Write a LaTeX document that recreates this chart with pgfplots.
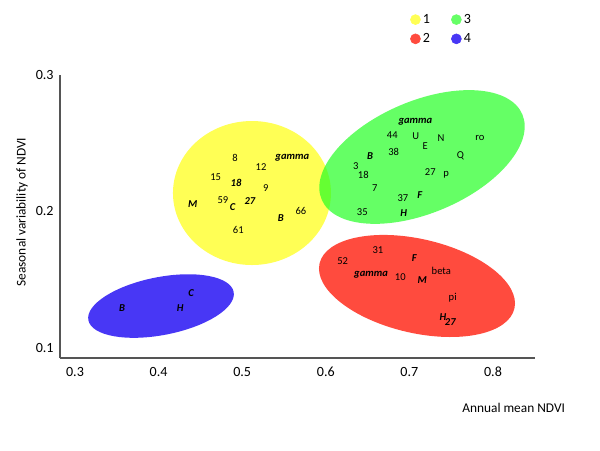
\documentclass[border=0pt]{standalone}
\usepackage{fontspec}
\setmainfont{Carlito}
\usepackage{pgfplots}
\pgfplotsset{compat=1.18}

\definecolor{cyellow}{RGB}{255,255,85}
\definecolor{cgreen}{RGB}{36,255,36}
\definecolor{cred}{RGB}{255,75,62}
\definecolor{cblue}{RGB}{72,55,245}
\definecolor{axisgray}{RGB}{85,85,85}
\newcommand\bi{\bfseries\itshape}

\begin{document}
\begin{tikzpicture}
\begin{axis}[
    x=20.9cm, y=34.125cm,
    xmin=0.282, xmax=0.85,
    ymin=0.0923, ymax=0.3,
    axis x line*=bottom,
    axis y line*=left,
    axis line style={axisgray, line width=1pt},
    xtick={0.3,0.4,0.5,0.6,0.7,0.8},
    ytick={0.1,0.2,0.3},
    major tick length=0pt,
    /pgf/number format/assume math mode=true,
    /pgf/number format/fixed,
    /pgf/number format/fixed zerofill,
    /pgf/number format/precision=1,
    tick label style={font=\fontsize{10}{12}\selectfont, black},
    xticklabel style={yshift=-3pt},
    yticklabel style={xshift=-1pt},
    xlabel={Annual mean NDVI},
    ylabel={Seasonal variability of NDVI},
    every axis x label/.style={at={(axis description cs:1.074,-0.176)}, anchor=east,
        font=\fontsize{9.5}{11}\selectfont},
    every axis y label/.style={at={(axis description cs:-0.08,0.515)}, rotate=90, anchor=center,
        font=\fontsize{9.5}{11}\selectfont},
    clip=false,
    nodes near coords,
    point meta=explicit symbolic,
    every node near coord/.append style={anchor=center, inner sep=0pt,
        font=\fontsize{7.5}{9}\selectfont, black},
    legend columns=2,
    transpose legend,
    legend style={at={(0.737,1.222)}, anchor=north west, draw=none, fill=none,
        inner sep=0pt, row sep=2.7pt, font=\fontsize{10}{12}\selectfont,
        nodes={inner sep=1.5pt},
        /tikz/every even column/.append style={column sep=0.475cm}},
    legend cell align=left,
]

% cluster outlines
\fill[cyellow] (axis cs:0.5117,0.2132) ellipse [x radius=1.975cm, y radius=1.8cm];
\fill[cgreen, opacity=0.7] (axis cs:0.7151,0.2396) ellipse [x radius=2.725cm, y radius=1.4cm, rotate=23];
\fill[cred] (axis cs:0.7091,0.1451) ellipse [x radius=2.5cm, y radius=1.175cm, rotate=-13];
\fill[cblue] (axis cs:0.4029,0.1304) ellipse [x radius=1.85cm, y radius=0.725cm, rotate=11];

\addlegendimage{cyellow, legend image code/.code={\fill (0cm,0cm) circle (0.125cm);}}
\addlegendentry{1}
\addlegendimage{cred, legend image code/.code={\fill (0cm,0cm) circle (0.125cm);}}
\addlegendentry{2}
\addlegendimage{cgreen!70!white, legend image code/.code={\fill (0cm,0cm) circle (0.125cm);}}
\addlegendentry{3}
\addlegendimage{cblue, legend image code/.code={\fill (0cm,0cm) circle (0.125cm);}}
\addlegendentry{4}

% cluster 1 (yellow)
\addplot[draw=none, mark=none, forget plot] coordinates {
    (0.4914,0.2386) [8]
    (0.5225,0.2325) [12]
    (0.5599,0.2393) [\bi gamma]
    (0.4683,0.2249) [15]
    (0.4926,0.2205) [\bi 18]
    (0.5281,0.2166) [9]
    (0.4408,0.2049) [\bi M]
    (0.4770,0.2078) [59]
    (0.4886,0.2027) [\bi C]
    (0.5093,0.2075) [\bi 27]
    (0.5703,0.1998) [66]
    (0.5461,0.1951) [\bi B]
    (0.4953,0.1859) [61]
};

% cluster 3 (green)
\addplot[draw=none, mark=none, forget plot] coordinates {
    (0.7071,0.2654) [\bi gamma]
    (0.6795,0.2555) [44]
    (0.7075,0.2549) [U]
    (0.7190,0.2478) [E]
    (0.7378,0.2537) [N]
    (0.7844,0.2533) [ro]
    (0.6529,0.2405) [\bi B]
    (0.6812,0.2432) [38]
    (0.7609,0.2405) [Q]
    (0.6358,0.2327) [3]
    (0.6449,0.2266) [18]
    (0.7250,0.2284) [27]
    (0.7441,0.2269) [p]
    (0.6585,0.2168) [7]
    (0.6923,0.2095) [37]
    (0.7123,0.2115) [\bi F]
    (0.6437,0.1995) [35]
    (0.6932,0.1985) [\bi H]
};

% cluster 2 (red)
\addplot[draw=none, mark=none, forget plot] coordinates {
    (0.6624,0.1712) [31]
    (0.6202,0.1636) [52]
    (0.7059,0.1653) [\bi F]
    (0.6541,0.1536) [\bi gamma]
    (0.6891,0.1514) [10]
    (0.7382,0.1563) [beta]
    (0.7154,0.1495) [\bi M]
    (0.7518,0.1368) [pi]
    (0.7402,0.1221) [\bi H]
    (0.7489,0.1189) [\bi 27]
};

% cluster 4 (blue)
\addplot[draw=none, mark=none, forget plot] coordinates {
    (0.4388,0.1401) [\bi C]
    (0.3562,0.1292) [\bi B]
    (0.4260,0.1292) [\bi H]
};

% page extent
\path (axis cs:0.2103,0.3546) rectangle (axis cs:0.9280,0.0249);
\end{axis}
\end{tikzpicture}
\end{document}
